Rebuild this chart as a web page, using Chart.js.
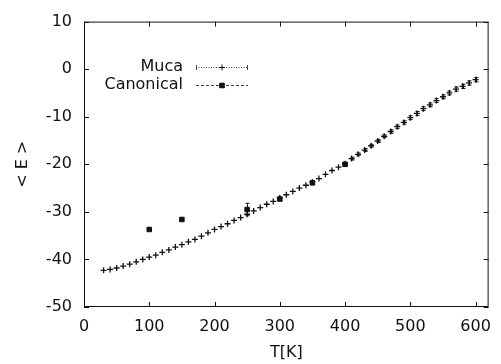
<!DOCTYPE html>
<html>
<head>
<meta charset="utf-8">
<script src="https://cdn.jsdelivr.net/npm/chart.js@4/dist/chart.umd.min.js"></script>
<style>
  html, body { margin: 0; padding: 0; background: #fff; }
  #wrap { width: 501px; height: 364px; }
</style>
</head>
<body>
<div id="wrap"><canvas id="c" width="501" height="364"></canvas></div>
<script>
// ── Dados ─────────────────────────────────────────────
const mucaT = [30, 40, 50, 60, 70, 80, 90, 100, 110, 120, 130, 140, 150, 160, 170, 180, 190, 200,
  210, 220, 230, 240, 250, 260, 270, 280, 290, 300, 310, 320, 330, 340, 350, 360, 370, 380, 390, 400,
  410, 420, 430, 440, 450, 460, 470, 480, 490, 500, 510, 520, 530, 540, 550, 560, 570, 580, 590, 600];
const mucaE = [-42.3, -42.1, -41.8, -41.4, -41.0, -40.5, -40.0, -39.5, -39.1, -38.5, -38.0, -37.4,
  -36.9, -36.3, -35.8, -35.1, -34.4, -33.7, -33.1, -32.5, -31.8, -31.2, -30.5, -29.8, -29.1, -28.4,
  -27.8, -27.1, -26.4, -25.7, -25.0, -24.4, -23.7, -23.0, -22.1, -21.3, -20.6, -19.9, -18.8, -17.9,
  -17.0, -16.1, -15.1, -14.1, -13.1, -12.1, -11.2, -10.2, -9.3, -8.3, -7.5, -6.6, -5.8, -5.0, -4.2,
  -3.6, -2.9, -2.2];
const mucaErr = [0.1, 0.1, 0.1, 0.1, 0.1, 0.1, 0.1, 0.1, 0.1, 0.1, 0.1, 0.1, 0.1, 0.1, 0.1, 0.1, 0.1,
  0.1, 0.1, 0.1, 0.1, 0.1, 0.1, 0.1, 0.1, 0.1, 0.1, 0.2, 0.2, 0.2, 0.2, 0.2, 0.2, 0.2, 0.2, 0.2,
  0.2, 0.3, 0.3, 0.3, 0.3, 0.3, 0.3, 0.3, 0.35, 0.35, 0.35, 0.4, 0.4, 0.4, 0.4, 0.4, 0.4, 0.4, 0.45,
  0.45, 0.45, 0.45];

const canonT = [100, 150, 250, 300, 350, 400];
const canonE = [-33.7, -31.6, -29.5, -27.3, -23.9, -20.0];
const canonErr = [0.2, 0.2, 1.3, 0.3, 0.3, 0.3];

const xTicks = [0, 100, 200, 300, 400, 500, 600];
const yTicks = [-50, -40, -30, -20, -10, 0, 10];

const INK = '#111';
const FONT = "'DejaVu Sans', 'Liberation Sans', sans-serif";

const toPoints = (xs, ys) => xs.map((x, i) => ({ x, y: ys[i] }));

// ── Plugins: moldura com ticks internos, barras de erro, legenda ──
const framePlugin = {
  id: 'frame',
  afterDraw(chart) {
    const { ctx, chartArea: a, scales } = chart;
    const len = 5;
    ctx.save();
    ctx.strokeStyle = INK;
    ctx.lineWidth = 1;
    ctx.strokeRect(a.left + 0.5, a.top + 0.5, a.right - a.left - 1, a.bottom - a.top - 1);
    ctx.beginPath();
    xTicks.forEach((t) => {
      const px = Math.round(scales.x.getPixelForValue(t)) + 0.5;
      ctx.moveTo(px, a.bottom); ctx.lineTo(px, a.bottom - len);
      ctx.moveTo(px, a.top); ctx.lineTo(px, a.top + len);
    });
    yTicks.forEach((t) => {
      const py = Math.round(scales.y.getPixelForValue(t)) + 0.5;
      ctx.moveTo(a.left, py); ctx.lineTo(a.left + len, py);
      ctx.moveTo(a.right, py); ctx.lineTo(a.right - len, py);
    });
    ctx.stroke();
    ctx.restore();
  },
};

const errorBarPlugin = {
  id: 'errorBars',
  afterDatasetsDraw(chart) {
    const { ctx, scales } = chart;
    ctx.save();
    ctx.strokeStyle = INK;
    ctx.lineWidth = 1;
    chart.data.datasets.forEach((ds, di) => {
      const meta = chart.getDatasetMeta(di);
      meta.data.forEach((pt, i) => {
        const e = ds.errors[i];
        const y0 = scales.y.getPixelForValue(ds.data[i].y - e);
        const y1 = scales.y.getPixelForValue(ds.data[i].y + e);
        if (Math.abs(y0 - y1) < 2) return;
        const x = Math.round(pt.x) + 0.5;
        ctx.beginPath();
        ctx.moveTo(x, y0); ctx.lineTo(x, y1);
        ctx.moveTo(x - 2, y0); ctx.lineTo(x + 2, y0);
        ctx.moveTo(x - 2, y1); ctx.lineTo(x + 2, y1);
        ctx.stroke();
      });
    });
    ctx.restore();
  },
};

const legendPlugin = {
  id: 'gpLegend',
  afterDraw(chart) {
    const { ctx } = chart;
    const rows = [
      { y: 67, dash: [1, 1.5], ends: true },
      { y: 85, dash: [3, 2], ends: false },
    ];
    ctx.save();
    ctx.font = `16px ${FONT}`;
    ctx.fillStyle = INK;
    ctx.textAlign = 'right';
    ctx.textBaseline = 'middle';
    chart.data.datasets.forEach((ds, i) => {
      const r = rows[i];
      ctx.fillStyle = INK;
      ctx.fillText(ds.label, 183, r.y);
      ctx.strokeStyle = '#444';
      ctx.lineWidth = 1;
      ctx.setLineDash(r.dash);
      ctx.beginPath();
      ctx.moveTo(196, r.y + 0.5); ctx.lineTo(248, r.y + 0.5);
      ctx.stroke();
      ctx.setLineDash([]);
      if (r.ends) {
        ctx.beginPath();
        ctx.moveTo(196.5, r.y - 2); ctx.lineTo(196.5, r.y + 3);
        ctx.moveTo(247.5, r.y - 2); ctx.lineTo(247.5, r.y + 3);
        ctx.stroke();
      }
      ctx.strokeStyle = INK;
      Chart.helpers.drawPoint(ctx, {
        pointStyle: ds.pointStyle, radius: ds.pointRadius, borderWidth: ds.borderWidth,
      }, 222, r.y + 0.5);
      ctx.fill();
    });
    ctx.restore();
  },
};

new Chart(document.getElementById('c'), {
  type: 'scatter',
  data: {
    datasets: [
      {
        label: 'Muca',
        data: toPoints(mucaT, mucaE),
        errors: mucaErr,
        pointStyle: 'cross',
        pointRadius: 3,
        borderWidth: 1.3,
        borderColor: INK,
        backgroundColor: INK,
      },
      {
        label: 'Canonical',
        data: toPoints(canonT, canonE),
        errors: canonErr,
        pointStyle: 'rect',
        pointRadius: 3.2,
        borderWidth: 1,
        borderColor: INK,
        backgroundColor: INK,
      },
    ],
  },
  options: {
    responsive: false,
    animation: false,
    devicePixelRatio: 1,
    layout: { padding: { top: 18, right: 3, left: 0, bottom: 0 } },
    plugins: { legend: { display: false }, tooltip: { enabled: false } },
    scales: {
      x: {
        type: 'linear',
        min: 0,
        max: 620,
        afterBuildTicks: (s) => { s.ticks = xTicks.map((v) => ({ value: v })); },
        afterFit: (s) => { s.height = 57; },
        grid: { display: false, drawTicks: false },
        border: { display: false },
        ticks: { color: INK, padding: 10, maxRotation: 0, font: { family: FONT, size: 16 } },
        title: { display: true, text: 'T[K]', color: INK, padding: { top: 0, bottom: 2 },
          font: { family: FONT, size: 16 } },
      },
      y: {
        type: 'linear',
        min: -50,
        max: 10,
        afterBuildTicks: (s) => { s.ticks = yTicks.map((v) => ({ value: v })); },
        afterFit: (s) => { s.width = 84; },
        grid: { display: false, drawTicks: false },
        border: { display: false },
        ticks: { color: INK, padding: 12, font: { family: FONT, size: 16 } },
        title: { display: true, text: '< E >', color: INK, padding: { top: 13, bottom: 0 },
          font: { family: FONT, size: 16 } },
      },
    },
  },
  plugins: [framePlugin, errorBarPlugin, legendPlugin],
});
</script>
</body>
</html>
